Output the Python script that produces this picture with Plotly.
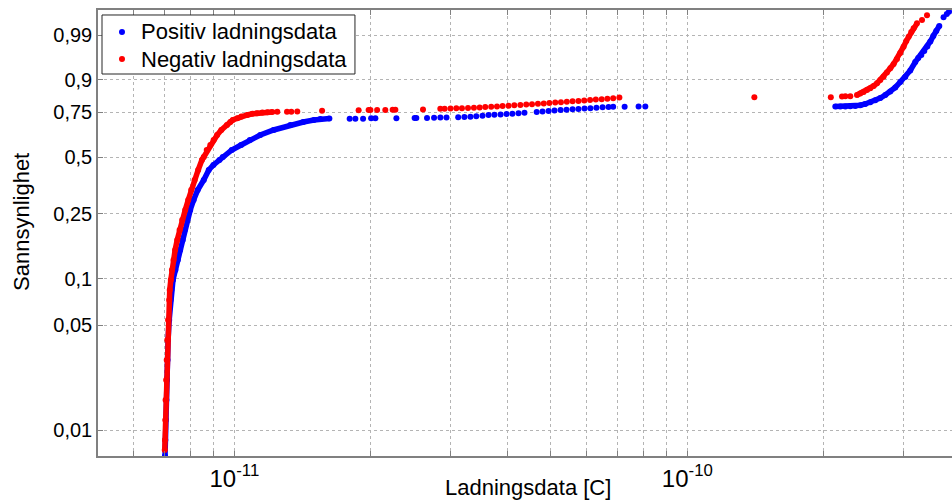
import numpy as np
import plotly.graph_objects as go

# ---------------- data (charge in pC, cumulative probability) ----------------
# Positive charge data (blue)
pos_low_q = [7.03, 7.04, 7.06, 7.08, 7.10, 7.12, 7.14, 7.18, 7.23, 7.26, 7.32, 7.41, 7.50, 7.59,
             7.69, 7.77, 7.87, 7.99, 8.13, 8.30, 8.56, 8.78, 8.99, 9.27, 9.43, 9.87, 10.35, 10.82,
             11.41, 12.21, 13.29, 14.20, 14.98, 15.48, 16.21]
pos_low_p = [0.00672, 0.00861, 0.01172, 0.01595, 0.02168, 0.02945, 0.03993, 0.05403, 0.07294,
             0.08464, 0.09813, 0.11359, 0.13134, 0.15161, 0.17466, 0.20083, 0.23032, 0.26333,
             0.30017, 0.34080, 0.38531, 0.43346, 0.45880, 0.48490, 0.50092, 0.53914, 0.56704,
             0.59527, 0.62373, 0.65222, 0.68058, 0.69750, 0.70867, 0.71424, 0.71703]
pos_flat_q = [17.97, 18.50, 19.24, 20.04, 20.48, 22.79, 25.00, 25.22, 26.63, 27.6, 28.5, 29.4,
              31.2, 32.2, 33.2, 34.2, 35.3, 36.4, 37.5, 38.7, 39.9, 41.1, 42.4, 43.7, 46.5, 47.9,
              49.4, 50.9, 52.5, 54.1, 55.8, 57.5, 59.3, 61.1, 63.0, 65.0, 67.0, 68.6, 72.71,
              78.06, 80.77]
pos_flat_p = [0.7159, 0.7160, 0.7161, 0.7180, 0.7181, 0.7182, 0.7197, 0.7198, 0.7199, 0.7214,
              0.7218, 0.7224, 0.7236, 0.7250, 0.7270, 0.7295, 0.7325, 0.7355, 0.7375, 0.7395,
              0.7415, 0.7432, 0.7455, 0.7477, 0.7525, 0.7555, 0.7582, 0.7605, 0.7625, 0.7645,
              0.7665, 0.7685, 0.7705, 0.7726, 0.7748, 0.7768, 0.7790, 0.7804, 0.7806, 0.7807,
              0.7808]
pos_top_q = [212.2, 217.7, 223.3, 229.0, 234.9, 240.9, 247.1, 253.5, 260.0, 266.7, 273.6, 280.6,
             287.8, 295.2, 302.8, 310.6, 318.6, 323.5, 328.5, 333.5, 338.7, 343.9, 349.2, 354.5,
             360.0]
pos_top_p = [0.7810, 0.7812, 0.7816, 0.7825, 0.7840, 0.7881, 0.7942, 0.8027, 0.8125, 0.8234,
             0.8375, 0.8531, 0.8702, 0.8917, 0.9094, 0.9298, 0.9517, 0.9602, 0.9659, 0.9725,
             0.9788, 0.9845, 0.9893, 0.9926, 0.9950]
pos_tail_q = [367.9, 374.0, 378.2]
pos_tail_p = [0.9977, 0.9983, 0.99865]

# Negative charge data (red)
neg_low_q = [7.02, 7.03, 7.04, 7.05, 7.07, 7.09, 7.11, 7.14, 7.18, 7.20, 7.24, 7.28, 7.34, 7.40,
             7.48, 7.57, 7.67, 7.79, 7.91, 8.03, 8.17, 8.32, 8.48, 8.56, 8.69, 8.85, 9.00, 9.16,
             9.36, 9.63, 9.80, 9.92, 10.15, 10.36, 10.68, 10.96, 11.22, 11.53, 11.83, 12.13]
neg_low_p = [0.00738, 0.00861, 0.01172, 0.01595, 0.02168, 0.02945, 0.03993, 0.05403, 0.07294,
             0.08464, 0.09813, 0.11359, 0.13134, 0.15161, 0.17466, 0.20083, 0.23032, 0.26333,
             0.30017, 0.34080, 0.38531, 0.43346, 0.48490, 0.50092, 0.53914, 0.56704, 0.59527,
             0.62373, 0.65222, 0.68058, 0.69750, 0.70867, 0.71814, 0.72800, 0.73627, 0.74279,
             0.74548, 0.74979, 0.75087, 0.75249]
neg_flat_q = [12.44, 13.07, 13.36, 13.77, 15.62, 18.81, 19.79, 19.97, 20.66, 21.54, 22.36, 22.67,
              26.09, 28.49, 29.12, 30.0, 30.9, 31.8, 32.8, 33.8, 34.8, 35.8, 36.9, 38.0, 39.1,
              40.3, 41.5, 42.8, 44.1, 45.4, 46.8, 48.2, 49.6, 51.1, 52.6, 54.2, 55.8, 57.5, 59.2,
              61.0, 62.8, 64.7, 66.6, 68.6, 70.8, 140.6, 207.4, 219.5, 223.3, 229.0]
neg_flat_p = [0.7536, 0.7541, 0.7543, 0.7545, 0.7589, 0.7615, 0.7631, 0.7633, 0.7635, 0.7637,
              0.7642, 0.7644, 0.7658, 0.7695, 0.7700, 0.7710, 0.7718, 0.7726, 0.7737, 0.7750,
              0.7765, 0.7782, 0.7800, 0.7818, 0.7838, 0.7858, 0.7875, 0.7895, 0.7912, 0.7930,
              0.7948, 0.7968, 0.7990, 0.8010, 0.8030, 0.8050, 0.8072, 0.8094, 0.8115, 0.8138,
              0.8160, 0.8180, 0.8200, 0.8225, 0.8258, 0.8267, 0.8270, 0.8305, 0.8314, 0.8316]
neg_top_q = [236.9, 240.9, 245.0, 249.3, 253.5, 257.8, 262.3, 266.7, 271.2, 275.9, 280.6, 285.4,
             290.3, 295.2, 300.2, 304.4, 308.0, 312.2, 315.9, 321.4]
neg_top_p = [0.8375, 0.8443, 0.8510, 0.8596, 0.8668, 0.8763, 0.8867, 0.8991, 0.9104, 0.9238,
             0.9360, 0.9470, 0.9582, 0.9693, 0.9785, 0.9850, 0.9887, 0.9920, 0.9940, 0.9960]
neg_tail_q = [329.7, 338.2]
neg_tail_p = [0.9970, 0.9981]

series_names = ['Positiv ladningsdata', 'Negativ ladningsdata']

# axis ticks
y_tick_probs = [0.01, 0.05, 0.1, 0.25, 0.5, 0.75, 0.9, 0.99]
y_tick_text = ['0,01', '0,05', '0,1', '0,25', '0,5', '0,75', '0,9', '0,99']
x_tick_vals = [6e-12, 7e-12, 8e-12, 9e-12, 1e-11, 2e-11, 3e-11, 4e-11, 5e-11, 6e-11, 7e-11,
               8e-11, 9e-11, 1e-10, 2e-10, 3e-10]
x_tick_text = ['', '', '', '', '10<sup>-11</sup>', '', '', '', '', '', '', '', '',
               '10<sup>-10</sup>', '', '']
x_limits = [5e-12, 3.84e-10]
p_limits = [0.00672, 0.99887]

PC = 1e-12
FONT = 'Liberation Sans, Arial, sans-serif'
BLUE = '#0000ff'
RED = '#ff0000'


def weib(p):
    p = np.asarray(p, dtype=float)
    return np.log(-np.log(1.0 - p))


def qs(v):
    return np.asarray(v, dtype=float) * PC


fig = go.Figure()


def add_series(name, color, dense_segments, all_q, all_p):
    for q, p in dense_segments:
        fig.add_trace(go.Scatter(x=qs(q), y=weib(p), mode='lines',
                                 line=dict(color=color, width=5.5),
                                 showlegend=False, hoverinfo='skip'))
    fig.add_trace(go.Scatter(x=qs(all_q), y=weib(all_p), mode='markers', name=name,
                             marker=dict(color=color, size=6, line=dict(width=0)),
                             showlegend=False))


add_series(series_names[0], BLUE,
           [(pos_low_q, pos_low_p), (pos_top_q, pos_top_p)],
           pos_low_q + pos_flat_q + pos_top_q + pos_tail_q,
           pos_low_p + pos_flat_p + pos_top_p + pos_tail_p)
add_series(series_names[1], RED,
           [(neg_low_q, neg_low_p), (neg_top_q, neg_top_p)],
           neg_low_q + neg_flat_q + neg_top_q + neg_tail_q,
           neg_low_p + neg_flat_p + neg_top_p + neg_tail_p)

axis_common = dict(
    showline=True, linecolor='#808080', linewidth=1.5,
    ticks='inside', ticklen=5, tickcolor='#808080', tickwidth=1,
    showgrid=True, gridcolor='#b4b4b4', griddash='dot', gridwidth=1,
    zeroline=False,
)

# legend box drawn MATLAB-style (compact rows)
legend_shapes = [
    dict(type='rect', xref='paper', yref='paper', x0=0.0047, x1=0.3009, y0=0.8565, y1=0.9888,
         line=dict(color='#262626', width=1), fillcolor='white', layer='above'),
]
legend_rows_y = [0.9507, 0.8901]
legend_annotations = []
for name, color, ly in zip(series_names, [BLUE, RED], legend_rows_y):
    legend_shapes.append(dict(type='circle', xref='paper', yref='paper',
                              xsizemode='pixel', ysizemode='pixel',
                              xanchor=0.0281, yanchor=ly, x0=-3, x1=3, y0=-3, y1=3,
                              fillcolor=color, line=dict(width=0), layer='above'))
    legend_annotations.append(dict(text=name, xref='paper', yref='paper', x=0.0480, y=ly,
                                   xanchor='left', yanchor='middle', showarrow=False,
                                   font=dict(family=FONT, size=22, color='black')))

fig.update_layout(
    width=952, height=503,
    margin=dict(l=98, r=0, t=10, b=47),
    paper_bgcolor='white', plot_bgcolor='white',
    xaxis=dict(type='log', range=[np.log10(x_limits[0]), np.log10(x_limits[1])],
               tickmode='array', tickvals=x_tick_vals, ticktext=x_tick_text,
               mirror='ticks', tickfont=dict(family=FONT, size=24, color='black'),
               **axis_common),
    yaxis=dict(range=[float(weib(p_limits[0])), float(weib(p_limits[1]))],
               tickmode='array', tickvals=weib(y_tick_probs), ticktext=y_tick_text,
               mirror=False, tickfont=dict(family=FONT, size=20, color='black'),
               **axis_common),
    shapes=legend_shapes,
    annotations=legend_annotations + [
        dict(text='Ladningsdata [C]', xref='paper', yref='paper', x=0.5035, y=-0.0717,
             xanchor='center', yanchor='middle', showarrow=False,
             font=dict(family=FONT, size=22, color='black')),
        dict(text='Sannsynlighet', xref='paper', yref='paper', x=-0.089, y=0.5247,
             xanchor='center', yanchor='middle', textangle=-90, showarrow=False,
             font=dict(family=FONT, size=22, color='black')),
    ],
    showlegend=False,
)

# remove the default page margin so the 952x503 figure fills the window exactly
fig.write_html('out.html',
               config={'displayModeBar': False},
               post_script="document.body.style.margin='0px';"
                           "document.body.style.overflow='hidden';")
